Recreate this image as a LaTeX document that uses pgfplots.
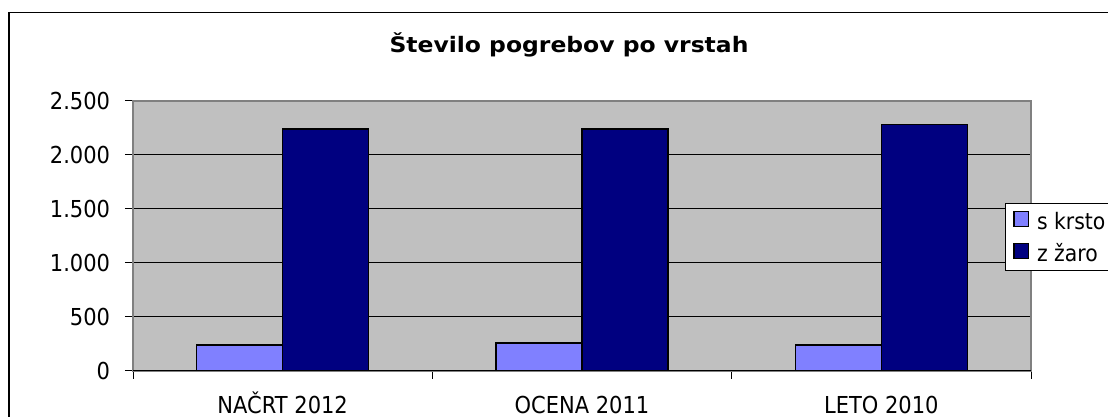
\documentclass[border=0pt]{standalone}
\usepackage{fontspec}
\setmainfont{DejaVu Sans}[FakeStretch=0.9]
\newfontfamily\titlefont{DejaVu Sans}[FakeStretch=1.1]
\usepackage{pgfplots}
\pgfplotsset{compat=1.18}
\definecolor{krsta}{HTML}{8080FF}
\definecolor{zara}{HTML}{000080}
\definecolor{plotbg}{HTML}{C0C0C0}
\definecolor{bordergray}{HTML}{808080}
\begin{document}
\begin{tikzpicture}[x=0.75pt,y=0.75pt]
\useasboundingbox (0,0) rectangle (1108,417);
\draw[black,line width=1.2pt] (9,-30) rectangle (1130,404.5);
\node[font=\titlefont\bfseries\fontsize{16}{19}\selectfont, anchor=base, inner sep=0pt] at (569,364.3) {Število pogrebov po vrstah};
\coordinate (SW) at (133,46.3);
\begin{axis}[
  at={(SW)}, anchor=south west,
  scale only axis, width=673.5pt, height=202.5pt,
  ybar=0pt, bar width=64.5pt,
  xmin=-0.5, xmax=2.5, ymin=0, ymax=2500,
  xtick={-0.5,0.5,1.5,2.5}, xticklabels={},
  extra x ticks={0,1,2},
  extra x tick labels={NAČRT 2012, OCENA 2011, LETO 2010},
  extra x tick style={major tick length=0pt, xticklabel style={anchor=base, inner sep=0pt, yshift=-32pt}},
  ytick={0,500,1000,1500,2000,2500},
  xtick pos=bottom, ytick pos=left,
  tick align=outside, major tick length=6pt,
  tick style={black, line width=0.75pt},
  ymajorgrids, grid style={black, line width=0.75pt},
  axis background/.style={fill=plotbg},
  axis line style={bordergray, line width=1.5pt},
  every tick label/.append style={font=\fontsize{17.5}{21}\selectfont},
  yticklabel style={anchor=east, inner sep=0pt, xshift=-11pt},
  /pgf/number format/.cd, 1000 sep={.}, assume math mode=true, /pgfplots/.cd,
  legend style={at={(0.971,0.621)}, anchor=north west, draw=black, line width=0.75pt,
    fill=white, font=\fontsize{17pt}{20pt}\selectfont, inner xsep=6pt, inner ysep=1.2pt,
    column sep=3pt,
    nodes={inner xsep=3pt, inner ysep=3pt, text height=15pt, text depth=3pt}},
  legend cell align=left,
]
\addplot[fill=krsta, draw=black, line width=1.1pt,
  legend image code/.code={\draw[fill=krsta,draw=black,line width=0.9pt] (0pt,-3.8pt) rectangle (10.8pt,7pt);}]
  coordinates {(0,238) (1,256) (2,238)};
\addplot[fill=zara, draw=black, line width=1.1pt,
  legend image code/.code={\draw[fill=zara,draw=black,line width=0.9pt] (0pt,-3.8pt) rectangle (10.8pt,7pt);}]
  coordinates {(0,2238) (1,2238) (2,2278)};
\legend{s krsto\hspace*{30pt}, z žaro}
\draw[black, line width=1pt] (axis cs:-0.5,0) -- (axis cs:2.5,0);
\end{axis}
\end{tikzpicture}
\end{document}
